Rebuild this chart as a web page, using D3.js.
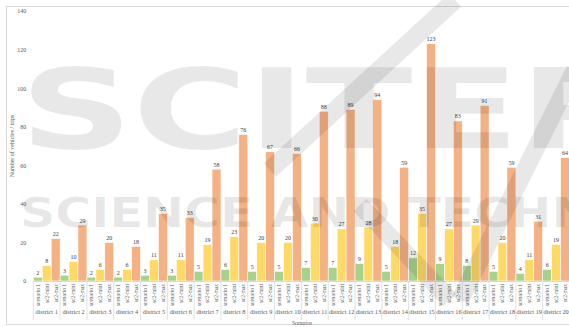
<!DOCTYPE html>
<html>
<head>
<meta charset="utf-8">
<script src="https://cdn.jsdelivr.net/npm/d3@7"></script>
<style>
  body { margin: 0; background: #fff; }
  svg { display: block; font-family: "Liberation Serif", "Times New Roman", serif; }
</style>
</head>
<body>
<svg id="chart" width="569" height="327"></svg>
<script>
const districts = ["district 1", "district 2", "district 3", "district 4", "district 5",
  "district 6", "district 7", "district 8", "district 9", "district 10", "district 11",
  "district 12", "district 13", "district 14", "district 15", "district 16", "district 17",
  "district 18", "district 19", "district 20"];
const scenarios = ["scenario 1", "sc2-mini", "sc2-max"];
const scenario1 = [2, 3, 2, 2, 3, 3, 5, 6, 5, 5, 7, 7, 9, 5, 12, 9, 8, 5, 4, 6];
const sc2Mini = [8, 10, 6, 6, 11, 11, 19, 23, 20, 20, 30, 27, 28, 18, 35, 27, 29, 20, 11, 19];
const sc2Max = [22, 29, 20, 18, 35, 33, 58, 76, 67, 66, 88, 89, 94, 59, 123, 83, 91, 59, 31, 64];
const yTicks = [0, 20, 40, 60, 80, 100, 120, 140];

const colors = {"scenario 1": "#a9d18e", "sc2-mini": "#ffd966", "sc2-max": "#f4b183"};
const series = [scenario1, sc2Mini, sc2Max];

const rows = districts.map((d, i) => ({
  district: d,
  values: scenarios.map((s, j) => ({key: s, value: series[j][i]}))
}));

const svg = d3.select("#chart");

// chart area border
svg.append("rect")
    .attr("x", 6.5).attr("y", 6.5)
    .attr("width", 620).attr("height", 318)
    .attr("fill", "none")
    .attr("stroke", "#d9d9d9")
    .attr("stroke-width", 1);

const x0 = d3.scaleBand()
    .domain(districts)
    .range([33.3, 569.5])
    .padding(0);

const x1 = d3.scaleBand()
    .domain(scenarios)
    .range([0, x0.bandwidth()])
    .padding(0);

const y = d3.scaleLinear()
    .domain([0, 140])
    .range([281, 11]);

// Y Axis
const yAxis = svg.append("g")
    .attr("transform", "translate(33.3,0)")
    .call(d3.axisLeft(y).tickValues(yTicks).tickSize(0).tickPadding(7));
yAxis.select(".domain").remove();
yAxis.selectAll("text")
    .attr("font-family", "Liberation Serif")
    .attr("font-size", 6)
    .attr("fill", "#595959");

svg.append("text")
    .attr("transform", "translate(14,146) rotate(-90)")
    .attr("text-anchor", "middle")
    .attr("font-size", 6)
    .attr("fill", "#595959")
    .text("Number of vehicles / trips");

// bars
const groups = svg.selectAll(".district")
    .data(rows)
  .enter().append("g")
    .attr("class", "district")
    .attr("transform", d => `translate(${x0(d.district)},0)`);

groups.selectAll("rect")
    .data(d => d.values)
  .enter().append("rect")
    .attr("x", d => x1(d.key))
    .attr("y", d => y(d.value))
    .attr("width", x1.bandwidth())
    .attr("height", d => y(0) - y(d.value))
    .attr("fill", d => colors[d.key])
    .attr("stroke", "#fff")
    .attr("stroke-width", 0.6);

groups.selectAll(".val")
    .data(d => d.values)
  .enter().append("text")
    .attr("class", "val")
    .attr("x", d => x1(d.key) + x1.bandwidth() / 2)
    .attr("y", d => y(d.value) - 2.5)
    .attr("text-anchor", "middle")
    .attr("font-size", 6)
    .attr("fill", "#404040")
    .text(d => d.value);

// X Axis line
svg.append("line")
    .attr("x1", 33.3).attr("x2", 569.5)
    .attr("y1", 281.5).attr("y2", 281.5)
    .attr("stroke", "#d9d9d9");

// scenario labels per district
groups.each(function() {
  const g = d3.select(this).append("g")
      .attr("transform", "translate(0,281)")
      .call(d3.axisBottom(x1).tickSize(0).tickPadding(0));
  g.select(".domain").remove();
  g.selectAll("text")
      .attr("transform", "rotate(-90)")
      .attr("text-anchor", "end")
      .attr("x", -3)
      .attr("y", 0)
      .attr("dy", "0.35em")
      .attr("font-family", "Liberation Serif")
      .attr("font-size", 5.4)
      .attr("fill", "#595959");
});

// group separators
svg.selectAll(".sep")
    .data(districts.concat([null]))
  .enter().append("line")
    .attr("class", "sep")
    .attr("x1", d => d ? x0(d) : x0.range()[1])
    .attr("x2", d => d ? x0(d) : x0.range()[1])
    .attr("y1", 281)
    .attr("y2", 320)
    .attr("stroke", "#d9d9d9")
    .attr("stroke-width", 0.8);

// district labels
const xAxis = svg.append("g")
    .attr("transform", "translate(0,310)")
    .call(d3.axisBottom(x0).tickSize(0).tickPadding(0));
xAxis.select(".domain").remove();
xAxis.selectAll("text")
    .attr("font-family", "Liberation Serif")
    .attr("font-size", 6.3)
    .attr("fill", "#595959");

svg.append("text")
    .attr("x", 302)
    .attr("y", 324.8)
    .attr("text-anchor", "middle")
    .attr("font-size", 5.2)
    .attr("fill", "#595959")
    .text("Scenarios");

// publisher watermark over the figure
const wm = svg.append("g")
    .attr("fill", "#000")
    .attr("fill-opacity", 0.09)
    .style("pointer-events", "none");

wm.append("text")
    .attr("x", 20)
    .attr("y", 148)
    .attr("font-family", "DejaVu Sans")
    .attr("font-weight", "bold")
    .attr("font-size", 110)
    .attr("textLength", 1060)
    .attr("lengthAdjust", "spacingAndGlyphs")
    .text("SCITEPRESS");

wm.append("text")
    .attr("x", 20)
    .attr("y", 227)
    .attr("font-family", "DejaVu Sans")
    .attr("font-weight", "bold")
    .attr("font-size", 40)
    .attr("textLength", 760)
    .attr("lengthAdjust", "spacingAndGlyphs")
    .text("SCIENCE AND TECHNOLOGY");

const slash = d3.line();
[[[455, 0], [270, 170]], [[360, 205], [450, 300]], [[575, 70], [460, 300]]].forEach(seg => {
  wm.append("path")
      .attr("d", slash(seg))
      .attr("fill", "none")
      .attr("stroke", "#000")
      .attr("stroke-opacity", 0.09)
      .attr("stroke-width", 18);
});
</script>
</body>
</html>
